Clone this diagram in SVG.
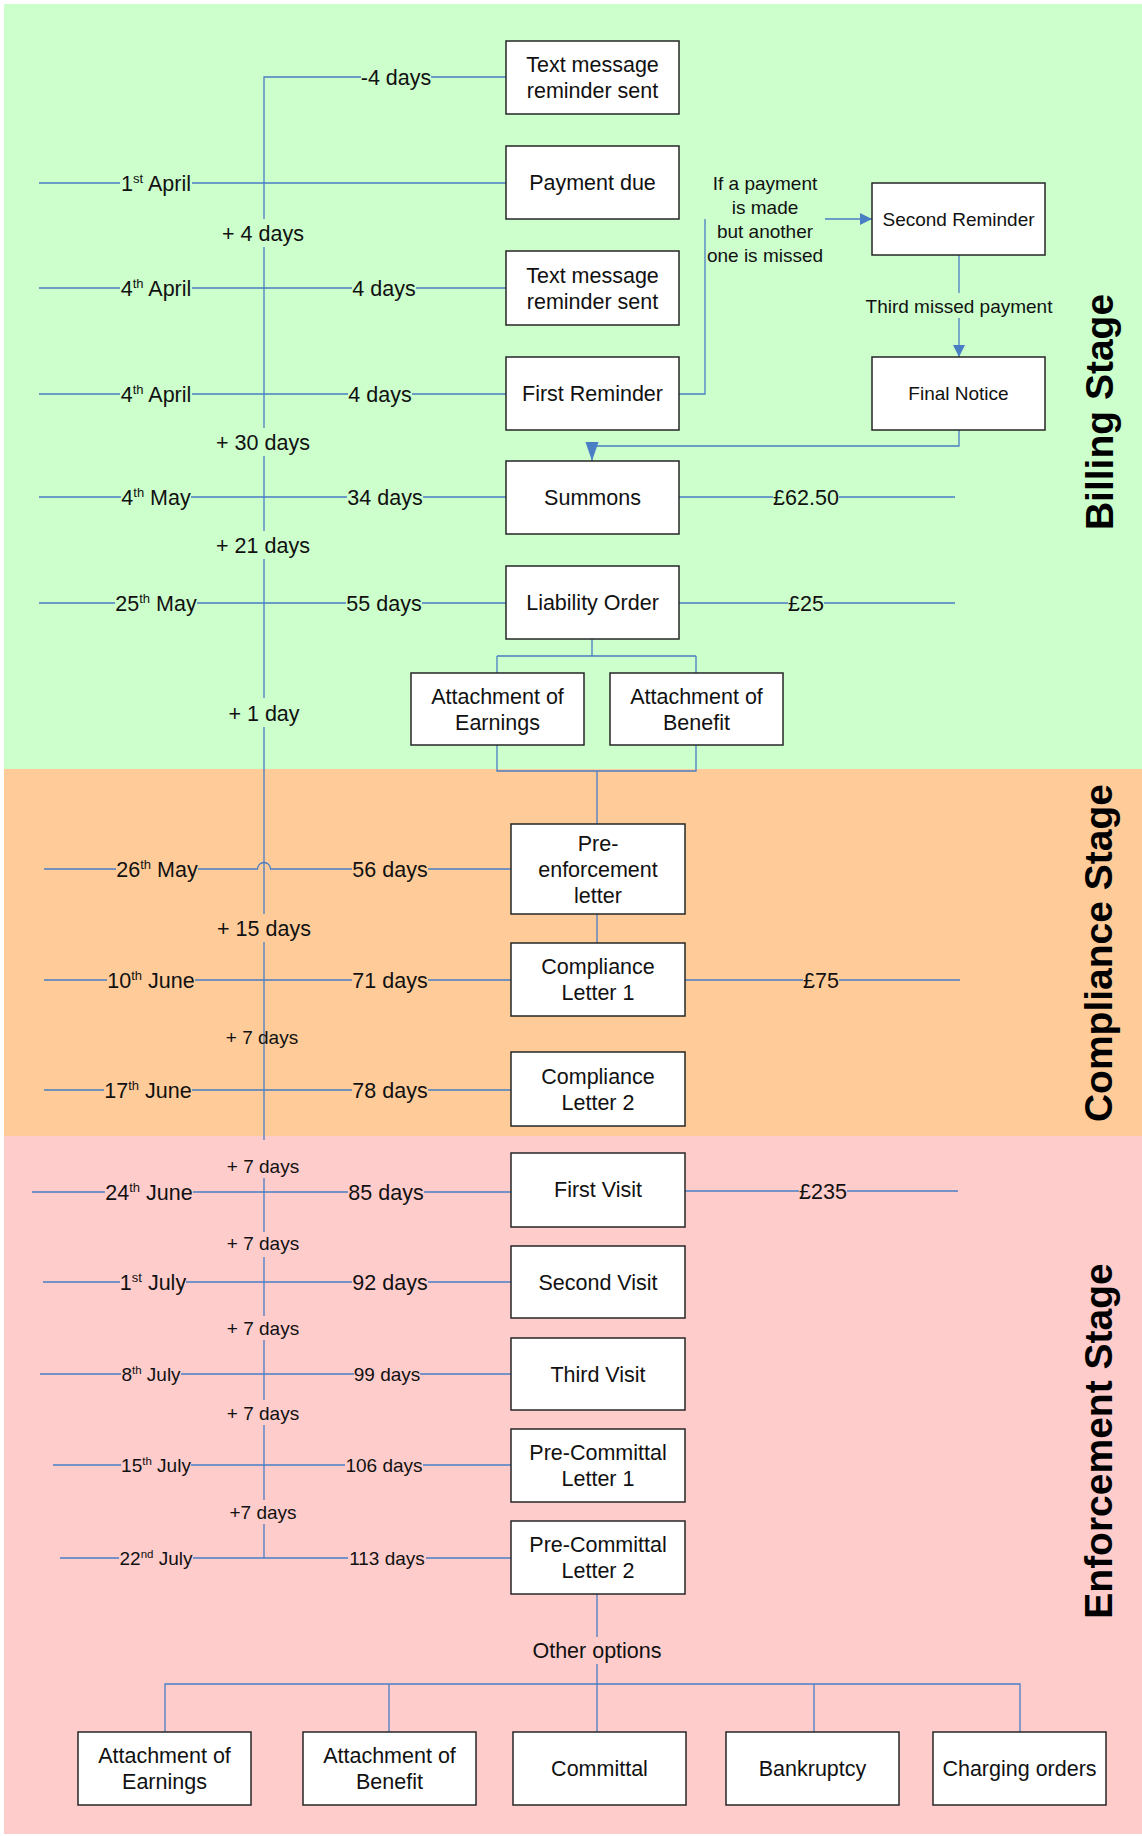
<svg xmlns="http://www.w3.org/2000/svg" width="1142" height="1836" viewBox="0 0 1142 1836">
<style>
.ln{stroke:#4A7EC4;stroke-width:1.3;fill:none}
.bx rect{fill:#fff;stroke:#262626;stroke-width:1.5}
text{font-family:"Liberation Sans",Arial,sans-serif;font-size:21.5px;fill:#111;text-anchor:middle}
.s{font-size:19px}
.sup{font-size:13px}
.s .sup{font-size:11.5px}
.stage{font-size:39px;font-weight:bold;fill:#000}
</style>
<defs>
<marker id="arr" markerUnits="userSpaceOnUse" markerWidth="13" markerHeight="13" refX="12" refY="6" orient="auto"><path d="M0,0 L12,6 L0,12 z" fill="#4A7EC4"/></marker>
<marker id="arrL" markerUnits="userSpaceOnUse" markerWidth="20" markerHeight="14" refX="19" refY="6.5" orient="auto"><path d="M0,0 L19,6.5 L0,13 z" fill="#4A7EC4"/></marker>
</defs>
<rect x="0" y="0" width="1142" height="1836" fill="#fff"/>
<g id="regions">
<rect x="4" y="4" width="1138" height="765" fill="#CCFFCC"/>
<rect x="4" y="769" width="1138" height="367" fill="#FFCC99"/>
<rect x="4" y="1136" width="1138" height="698" fill="#FFCCCC"/>
</g>
<g id="connectors" class="ln">
<path d="M506,77 H431 M361,77 H264 V219 M264,247 V428 M264,456 V531 M264,559 V698 M264,727 V914 M264,942 V1140 M264,1178 V1232 M264,1257 V1316 M264,1340 V1400 M264,1425 V1500 M264,1524 V1558"/>
<path d="M39,183 H120 M192,183 H506"/>
<path d="M39,288 H120 M192,288 H352 M416,288 H506"/>
<path d="M39,394 H120 M192,394 H348 M412,394 H506"/>
<path d="M39,497 H121 M191,497 H347 M423,497 H506 M679,497 H773 M839,497 H955"/>
<path d="M39,603 H115 M197,603 H346 M422,603 H506 M679,603 H788 M824,603 H955"/>
<path d="M44,869 H116 M198,869 H257.5 A6.5,6.5 0 0 1 270.5,869 H352 M428,869 H511"/>
<path d="M44,980 H107 M195,980 H352 M428,980 H511 M685,980 H803 M839,980 H960"/>
<path d="M44,1090 H104 M192,1090 H352 M428,1090 H511"/>
<path d="M32,1192 H105 M193,1192 H348 M424,1192 H511 M685,1191 H799 M847,1191 H958"/>
<path d="M43,1282 H120 M186,1282 H352 M428,1282 H511"/>
<path d="M40,1374 H121 M181,1374 H354 M420,1374 H511"/>
<path d="M53,1465 H121 M191,1465 H345 M423,1465 H511"/>
<path d="M60,1558 H119 M193,1558 H348 M426,1558 H511"/>
<path d="M679,394 H705 V219"/>
<path d="M825,219 H872" marker-end="url(#arr)"/>
<path d="M959,255 V293"/>
<path d="M959,318 V357" marker-end="url(#arr)"/>
<path d="M959,430 V446 H592 V461" marker-end="url(#arrL)"/>
<path d="M592,639 V656 M497,656 H696 M497,656 V673 M696,656 V673"/>
<path d="M497,745 V771 H696 V745 M597,771 V824"/>
<path d="M597,914 V943"/>
<path d="M597,1594 V1637 M597,1664 V1732 M165,1732 V1684 H1020 V1732 M389,1684 V1732 M814,1684 V1732"/>
</g>
<g id="labels">
<text x="396" y="84.5">-4 days</text>
<text x="156" y="190.5">1<tspan class="sup" dy="-8">st</tspan><tspan dy="8"> April</tspan></text>
<text x="156" y="295.5">4<tspan class="sup" dy="-8">th</tspan><tspan dy="8"> April</tspan></text>
<text x="384" y="295.5">4 days</text>
<text x="156" y="401.5">4<tspan class="sup" dy="-8">th</tspan><tspan dy="8"> April</tspan></text>
<text x="380" y="401.5">4 days</text>
<text x="156" y="504.5">4<tspan class="sup" dy="-8">th</tspan><tspan dy="8"> May</tspan></text>
<text x="385" y="504.5">34 days</text>
<text x="806" y="504.5">£62.50</text>
<text x="156" y="610.5">25<tspan class="sup" dy="-8">th</tspan><tspan dy="8"> May</tspan></text>
<text x="384" y="610.5">55 days</text>
<text x="806" y="610.5">£25</text>
<text x="157" y="876.5">26<tspan class="sup" dy="-8">th</tspan><tspan dy="8"> May</tspan></text>
<text x="390" y="876.5">56 days</text>
<text x="151" y="987.5">10<tspan class="sup" dy="-8">th</tspan><tspan dy="8"> June</tspan></text>
<text x="390" y="987.5">71 days</text>
<text x="821" y="987.5">£75</text>
<text x="148" y="1097.5">17<tspan class="sup" dy="-8">th</tspan><tspan dy="8"> June</tspan></text>
<text x="390" y="1097.5">78 days</text>
<text x="149" y="1199.5">24<tspan class="sup" dy="-8">th</tspan><tspan dy="8"> June</tspan></text>
<text x="386" y="1199.5">85 days</text>
<text x="823" y="1198.5">£235</text>
<text x="153" y="1289.5">1<tspan class="sup" dy="-8">st</tspan><tspan dy="8"> July</tspan></text>
<text x="390" y="1289.5">92 days</text>
<text class="s" x="151" y="1380.7">8<tspan class="sup" dy="-7">th</tspan><tspan dy="7"> July</tspan></text>
<text class="s" x="387" y="1380.7">99 days</text>
<text class="s" x="156" y="1471.7">15<tspan class="sup" dy="-7">th</tspan><tspan dy="7"> July</tspan></text>
<text class="s" x="384" y="1471.7">106 days</text>
<text class="s" x="156" y="1564.7">22<tspan class="sup" dy="-7">nd</tspan><tspan dy="7"> July</tspan></text>
<text class="s" x="387" y="1564.7">113 days</text>
<text x="263" y="240.5">+ 4 days</text>
<text x="263" y="449.5">+ 30 days</text>
<text x="263" y="552.5">+ 21 days</text>
<text x="264" y="720.5">+ 1 day</text>
<text x="264" y="935.5">+ 15 days</text>
<text class="s" x="262" y="1043.7">+ 7 days</text>
<text class="s" x="263" y="1172.7">+ 7 days</text>
<text class="s" x="263" y="1249.7">+ 7 days</text>
<text class="s" x="263" y="1334.7">+ 7 days</text>
<text class="s" x="263" y="1419.7">+ 7 days</text>
<text class="s" x="263" y="1518.7">+7 days</text>
<text class="s" x="765" y="189.7">If a payment</text>
<text class="s" x="765" y="213.7">is made</text>
<text class="s" x="765" y="237.7">but another</text>
<text class="s" x="765" y="261.7">one is missed</text>
<text class="s" x="959" y="312.7">Third missed payment</text>
<text x="597" y="1657.5">Other options</text>
<text class="stage" transform="translate(1113,412) rotate(-90)">Billing Stage</text>
<text class="stage" transform="translate(1112,953) rotate(-90)">Compliance Stage</text>
<text class="stage" transform="translate(1112,1441) rotate(-90)">Enforcement Stage</text>
</g>
<g id="n-text1" class="bx"><rect x="506" y="41" width="173" height="73"/><text x="592.5" y="72">Text message</text><text x="592.5" y="98">reminder sent</text></g>
<g id="n-payment" class="bx"><rect x="506" y="146" width="173" height="73"/><text x="592.5" y="190">Payment due</text></g>
<g id="n-text2" class="bx"><rect x="506" y="251" width="173" height="74"/><text x="592.5" y="282.5">Text message</text><text x="592.5" y="308.5">reminder sent</text></g>
<g id="n-first-reminder" class="bx"><rect x="506" y="357" width="173" height="73"/><text x="592.5" y="401">First Reminder</text></g>
<g id="n-second-reminder" class="bx"><rect x="872" y="183" width="173" height="72"/><text class="s" x="958.5" y="225.7">Second Reminder</text></g>
<g id="n-final-notice" class="bx"><rect x="872" y="357" width="173" height="73"/><text class="s" x="958.5" y="400.2">Final Notice</text></g>
<g id="n-summons" class="bx"><rect x="506" y="461" width="173" height="73"/><text x="592.5" y="505">Summons</text></g>
<g id="n-liability" class="bx"><rect x="506" y="566" width="173" height="73"/><text x="592.5" y="610">Liability Order</text></g>
<g id="n-aoe1" class="bx"><rect x="411" y="673" width="173" height="72"/><text x="497.5" y="703.5">Attachment of</text><text x="497.5" y="729.5">Earnings</text></g>
<g id="n-aob1" class="bx"><rect x="610" y="673" width="173" height="72"/><text x="696.5" y="703.5">Attachment of</text><text x="696.5" y="729.5">Benefit</text></g>
<g id="n-pre-enforcement" class="bx"><rect x="511" y="824" width="174" height="90"/><text x="598" y="850.5">Pre-</text><text x="598" y="876.5">enforcement</text><text x="598" y="902.5">letter</text></g>
<g id="n-cl1" class="bx"><rect x="511" y="943" width="174" height="73"/><text x="598" y="974">Compliance</text><text x="598" y="1000">Letter 1</text></g>
<g id="n-cl2" class="bx"><rect x="511" y="1052" width="174" height="74"/><text x="598" y="1083.5">Compliance</text><text x="598" y="1109.5">Letter 2</text></g>
<g id="n-first-visit" class="bx"><rect x="511" y="1153" width="174" height="74"/><text x="598" y="1197">First Visit</text></g>
<g id="n-second-visit" class="bx"><rect x="511" y="1246" width="174" height="72"/><text x="598" y="1289.5">Second Visit</text></g>
<g id="n-third-visit" class="bx"><rect x="511" y="1338" width="174" height="72"/><text x="598" y="1381.5">Third Visit</text></g>
<g id="n-pcl1" class="bx"><rect x="511" y="1429" width="174" height="73"/><text x="598" y="1460">Pre-Committal</text><text x="598" y="1486">Letter 1</text></g>
<g id="n-pcl2" class="bx"><rect x="511" y="1521" width="174" height="73"/><text x="598" y="1552">Pre-Committal</text><text x="598" y="1578">Letter 2</text></g>
<g id="n-aoe2" class="bx"><rect x="78" y="1732" width="173" height="73"/><text x="164.5" y="1762.5">Attachment of</text><text x="164.5" y="1788.5">Earnings</text></g>
<g id="n-aob2" class="bx"><rect x="303" y="1732" width="173" height="73"/><text x="389.5" y="1762.5">Attachment of</text><text x="389.5" y="1788.5">Benefit</text></g>
<g id="n-committal" class="bx"><rect x="513" y="1732" width="173" height="73"/><text x="599.5" y="1776">Committal</text></g>
<g id="n-bankruptcy" class="bx"><rect x="726" y="1732" width="173" height="73"/><text x="812.5" y="1776">Bankruptcy</text></g>
<g id="n-charging" class="bx"><rect x="933" y="1732" width="173" height="73"/><text x="1019.5" y="1776">Charging orders</text></g>
</svg>
